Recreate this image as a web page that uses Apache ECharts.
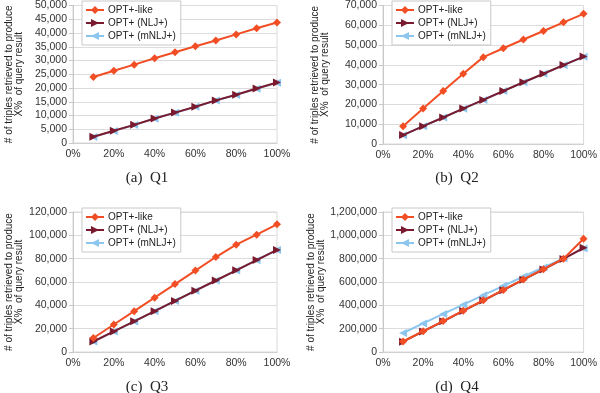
<!DOCTYPE html>
<html><head><meta charset="utf-8">
<script src="https://cdn.jsdelivr.net/npm/echarts@6/dist/echarts.min.js"></script>
<style>html,body{margin:0;padding:0;background:#fff}#c{width:600px;height:393px}</style>
</head><body><div id="c"></div>
<script>
const xPct = [10,20,30,40,50,60,70,80,90,100];
const seriesNames = ['OPT+-like','OPT+ (NLJ+)','OPT+ (mNLJ+)'];
const panelTitles = ['(a)  Q1','(b)  Q2','(c)  Q3','(d)  Q4'];
const yMax = [50000,70000,120000,1200000];
const yStep = [5000,10000,20000,200000];

const q1Like = [24000,26300,28500,30800,33000,35200,37300,39500,41700,43800];
const q1Nlj  = [2300,4450,6600,8900,11050,13200,15500,17550,19800,22000];
const q1Mnlj = [2200,4400,6550,8850,11000,13150,15450,17500,19750,21950];

const q2Like = [9000,17900,26800,35500,43900,48400,52800,57100,61500,65800];
const q2Nlj  = [4500,9000,13400,17900,22300,26800,31200,35500,39900,44200];
const q2Mnlj = [4450,8950,13350,17850,22250,26750,31150,35450,39850,44100];

const q3Like = [12000,23600,35000,46600,58200,69800,81400,92000,100600,109400];
const q3Nlj  = [9000,17600,26300,35000,43800,52600,61300,70000,78800,87500];
const q3Mnlj = [8900,17500,26200,34900,43700,52500,61200,69900,78700,87400];

const q4Like = [90000,178000,265000,354000,443000,532000,622000,710000,800000,970000];
const q4Nlj  = [88000,176000,263000,352000,441000,530000,620000,708000,798000,893000];
const q4Mnlj = [163000,245000,326000,406000,487000,567000,647000,724000,802000,888000];

const panels = [[q1Like,q1Nlj,q1Mnlj],[q2Like,q2Nlj,q2Mnlj],[q3Like,q3Nlj,q3Mnlj],[q4Like,q4Nlj,q4Mnlj]];

const colors = ['#f24e25','#7a1a2e','#8cc6ee'];
const symbols = ['diamond','triangle','triangle'];
const rotates = [0,-90,90];
const zs = [4,3,2];

const grids = [
  {left:73,width:204,top:5,height:138},
  {left:383,width:204,top:5,height:139},
  {left:73,width:204,top:212,height:140},
  {left:383,width:204,top:212,height:140}
];
const txt = '#333';
const font = 'Liberation Sans, Arial, sans-serif';

const option = {
  animation:false,
  grid: grids.map(g=>Object.assign({show:true,borderColor:'#d9d9d9',borderWidth:1,backgroundColor:'transparent'},g)),
  title: panelTitles.map((t,i)=>({
    text:t, left: (i%2===0?142:452), top:(i<2?166:375), textAlign:'center',
    textStyle:{fontFamily:'Liberation Serif, Times New Roman, serif',fontSize:15,fontWeight:'normal',color:'#222'}
  })),
  legend: grids.map((g,i)=>({
    data: seriesNames, orient:'vertical', left: g.left+9, top: g.top-4,
    backgroundColor:'#fff', borderColor:'#c8c8c8', borderWidth:1,
    padding:[4,5,4,3], itemGap:3, itemWidth:18, itemHeight:10,
    textStyle:{fontFamily:font,fontSize:10,color:'#222',padding:[0,0,0,-1]}
  })),
  xAxis: grids.map((g,i)=>({
    type:'value', gridIndex:i, min:0, max:100, interval:20,
    axisLine:{show:true,lineStyle:{color:'#d0d0d0'}}, axisTick:{show:false},
    splitLine:{show:false},
    axisLabel:{formatter:'{value}%',fontFamily:font,fontSize:10.5,color:txt,margin:6}
  })),
  yAxis: grids.map((g,i)=>({
    type:'value', gridIndex:i, min:0, max:yMax[i], interval:yStep[i],
    axisLine:{show:true,lineStyle:{color:'#c8c8c8'}},
    axisTick:{show:true,length:4,lineStyle:{color:'#c8c8c8'}},
    splitLine:{show:true,lineStyle:{color:'#dcdcdc',width:1}},
    axisLabel:{formatter:v=>v.toLocaleString('en-US'),fontFamily:font,fontSize:10.5,color:txt,margin:6},
    name:'# of triples retrieved to produce\nX%  of query result',
    nameLocation:'middle', nameGap:(i%2===0?49:53), nameRotate:90,
    nameTextStyle:{fontFamily:font,fontSize:10,color:'#222',lineHeight:10}
  })),
  series: []
};
panels.forEach((p,i)=>{
  p.forEach((vals,k)=>{
    option.series.push({
      name:seriesNames[k], type:'line', xAxisIndex:i, yAxisIndex:i, z:zs[k],
      data: xPct.map((x,j)=>[x,vals[j]]),
      symbol:symbols[k], symbolRotate:rotates[k], symbolSize:8,
      showSymbol:true,
      itemStyle:{color:colors[k]}, lineStyle:{color:colors[k],width:2}
    });
  });
});
const chart = echarts.init(document.getElementById('c'),null,{renderer:'canvas'});
chart.setOption(option);
</script></body></html>
